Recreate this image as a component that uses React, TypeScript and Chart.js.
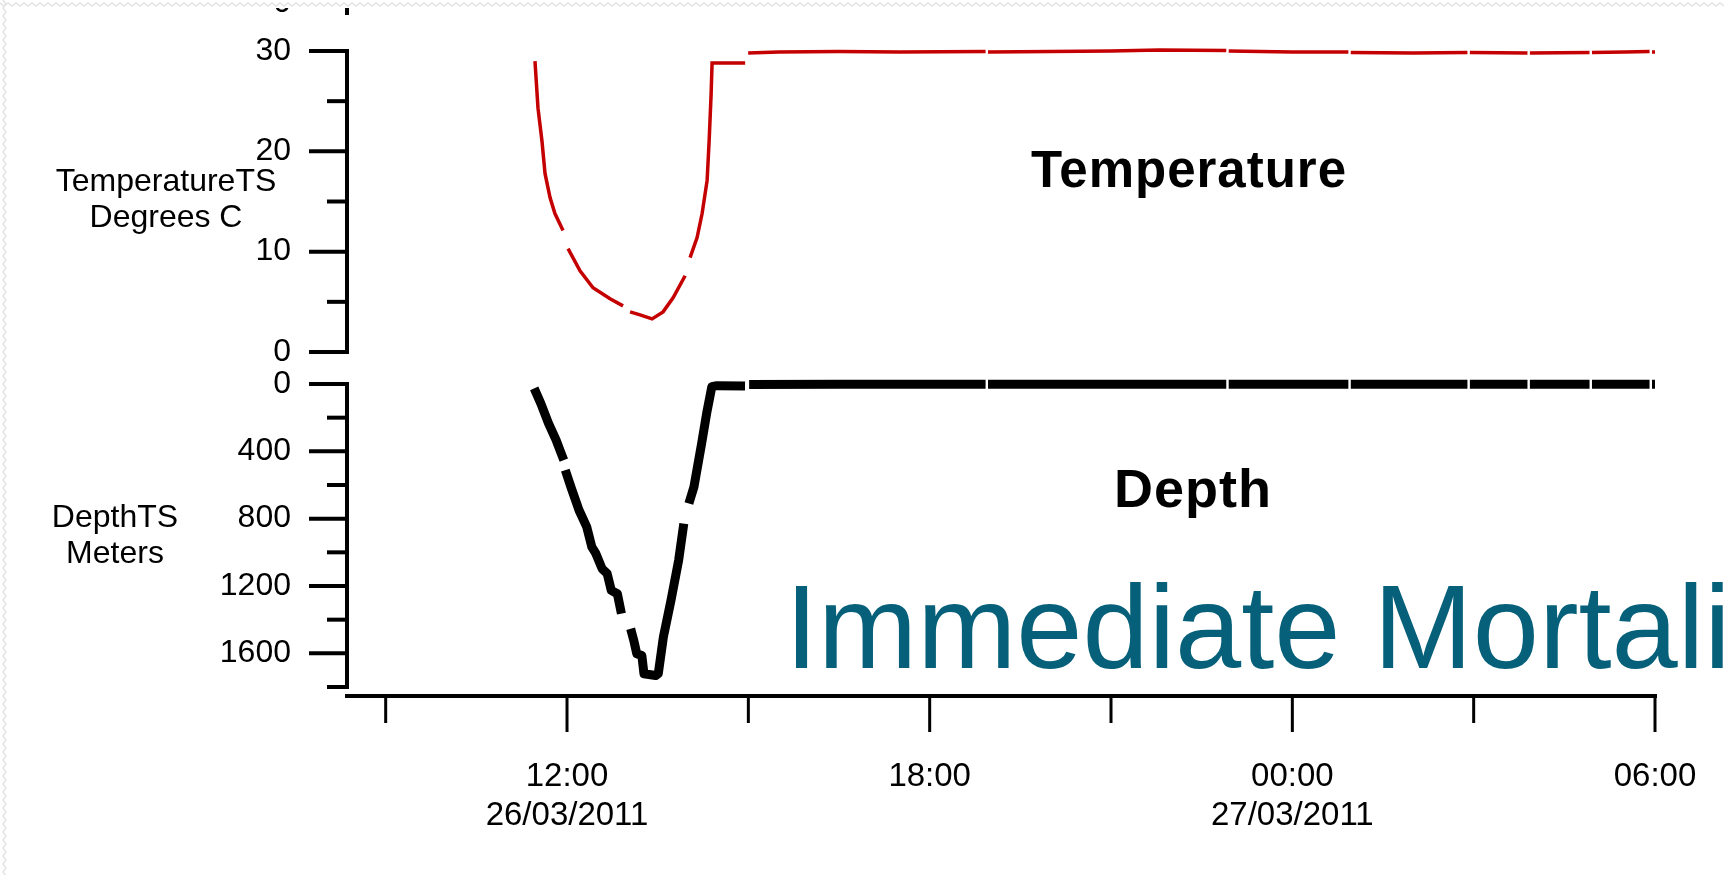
import React, { useEffect, useRef } from 'react';
import { Chart, registerables } from 'chart.js';

Chart.register(...registerables);

const W = 1724;
const H = 875;
const FONT = '"Liberation Sans", Arial, Helvetica, sans-serif';

// Time in hours since 26/03/2011 00:00 (null value = gap in record)
const TEMP_TIME = [
  11.47, 11.52, 11.586, 11.636, 11.719, 11.8, 11.934, 11.975, 12.017, 12.215, 12.43, 12.712, 12.927,
  12.985, 13.043, 13.209, 13.407, 13.589, 13.755, 13.954, 13.995, 14.036, 14.152, 14.235, 14.318,
  14.351, 14.384, 14.4, 14.947, 14.972, 14.997, 15.5, 16.5, 17.5, 18.925, 18.945, 18.965, 20.0, 21.0,
  21.8, 22.907, 22.927, 22.947, 24.0, 24.927, 24.947, 24.967, 26.0, 26.897, 26.917, 26.937, 27.89,
  27.91, 27.93, 28.917, 28.937, 28.957, 29.5, 29.91, 29.93, 29.95, 30.0,
];
const TEMP_VALUES = [
  29.0, 24.3, 21.0, 17.8, 15.4, 13.8, 12.1, null, 10.3, 8.1, 6.4, 5.3, 4.6,
  null, 4.0, 3.7, 3.3, 4.0, 5.4, 7.6, null, 9.4, 11.4, 13.8, 17.1,
  21.0, 25.7, 28.8, 28.8, null, 29.8, 29.9, 29.95, 29.9, 29.95, null, 29.9, 29.95, 30.0,
  30.1, 30.05, null, 30.0, 29.9, 29.9, null, 29.85, 29.8, 29.85, null, 29.85, 29.8,
  null, 29.8, 29.85, null, 29.85, 29.9, 29.95, null, 29.9, 29.9,
];

const DEPTH_TIME = [
  11.457, 11.566, 11.694, 11.82, 11.904, 11.947, 11.96, 11.972, 12.073, 12.199, 12.326, 12.41, 12.478,
  12.58, 12.664, 12.732, 12.833, 12.9, 12.98, 13.053, 13.104, 13.154, 13.238, 13.273, 13.467, 13.51,
  13.594, 13.72, 13.847, 13.932, 13.97, 14.016, 14.1, 14.227, 14.31, 14.396, 14.48, 14.945, 14.98,
  15.013, 16.5, 18.925, 18.945, 18.965, 20.5, 22.907, 22.927, 22.947, 24.927, 24.947, 24.967, 26.897,
  26.917, 26.937, 27.89, 27.91, 27.93, 28.917, 28.937, 28.957, 29.91, 29.93, 29.95, 30.0,
];
const DEPTH_VALUES = [
  26, 115, 234, 333, 413, 452, null, 512, 621, 750, 849, 968, 1008,
  1097, 1126, 1226, 1246, 1364, null, 1454, 1523, 1602, 1613, 1721, 1732, 1721,
  1504, 1285, 1047, 829, null, 710, 611, 353, 175, 16, 10, 12, null,
  3, 2, 2, null, 2, 1, 1, null, 1, 1, null, 1, 1,
  null, 1, 1, null, 1, 1, null, 1, 1, null, 1, 1,
];

const X_MIN = 8.36;
const X_MAX = 30;
const X_MAJOR = [12, 18, 24, 30];
const X_MINOR = [9, 15, 21, 27];
const X_TIME_LABELS = ['12:00', '18:00', '00:00', '06:00'];
const X_DATE_LABELS = ['26/03/2011', '', '27/03/2011', ''];

const TEMP_MIN = 0;
const TEMP_MAX = 30;
const TEMP_MAJOR = [0, 10, 20, 30];
const TEMP_MINOR = [5, 15, 25];
const TEMP_TITLE = ['TemperatureTS', 'Degrees C'];

const DEPTH_MIN = 0;
const DEPTH_MAX = 1800;
const DEPTH_MAJOR = [0, 400, 800, 1200, 1600];
const DEPTH_MINOR = [200, 600, 1000, 1400, 1800];
const DEPTH_TITLE = ['DepthTS', 'Meters'];

const toPoints = (t: number[], v: (number | null)[]) => t.map((x, i) => ({ x, y: v[i] }));

type AxisOpts = {
  yMin: number;
  yMax: number;
  yMajor: number[];
  yMinor: number[];
  title: string[];
  titleX: number;
  titleY: number;
  drawX: boolean;
  extra?: (ctx: CanvasRenderingContext2D, chart: any) => void;
};

const zeroPad = (s: any) => {
  s.paddingTop = 0;
  s.paddingBottom = 0;
  s.paddingLeft = 0;
  s.paddingRight = 0;
};

const makeAxisPlugin = (o: AxisOpts) => ({
  id: 'customAxes',
  afterDraw(chart: any) {
    const ctx: CanvasRenderingContext2D = chart.ctx;
    const ys = chart.scales.y;
    const xs = chart.scales.x;
    const area = chart.chartArea;
    ctx.save();
    ctx.strokeStyle = '#000';
    ctx.lineCap = 'butt';
    const left = area.left;
    const yTop = ys.getPixelForValue(o.yMax);
    const yBot = ys.getPixelForValue(o.yMin);
    const y1 = Math.min(yTop, yBot);
    const y2 = Math.max(yTop, yBot);
    ctx.lineWidth = 4;
    ctx.beginPath();
    ctx.moveTo(left, y1 - 2);
    ctx.lineTo(left, y2 + 2);
    ctx.stroke();
    o.yMajor.forEach((v) => {
      const p = ys.getPixelForValue(v);
      ctx.beginPath();
      ctx.moveTo(left - 38, p);
      ctx.lineTo(left + 2, p);
      ctx.stroke();
    });
    o.yMinor.forEach((v) => {
      const p = ys.getPixelForValue(v);
      ctx.beginPath();
      ctx.moveTo(left - 20, p);
      ctx.lineTo(left + 2, p);
      ctx.stroke();
    });
    if (o.drawX) {
      const ax = area.bottom + 9;
      ctx.lineWidth = 4;
      ctx.beginPath();
      ctx.moveTo(left - 2, ax);
      ctx.lineTo(area.right + 2, ax);
      ctx.stroke();
      ctx.lineWidth = 3;
      X_MAJOR.forEach((v) => {
        const p = xs.getPixelForValue(v);
        ctx.beginPath();
        ctx.moveTo(p, ax);
        ctx.lineTo(p, ax + 36);
        ctx.stroke();
      });
      X_MINOR.forEach((v) => {
        const p = xs.getPixelForValue(v);
        ctx.beginPath();
        ctx.moveTo(p, ax);
        ctx.lineTo(p, ax + 27);
        ctx.stroke();
      });
    }
    ctx.fillStyle = '#000';
    ctx.font = `32px ${FONT}`;
    ctx.textAlign = 'center';
    ctx.textBaseline = 'middle';
    o.title.forEach((t, i) => ctx.fillText(t, o.titleX, o.titleY + i * 36.5));
    if (o.extra) o.extra(ctx, chart);
    ctx.restore();
  },
});

// faint wavy slide border on the top and left edges
const drawSlideEdge = (ctx: CanvasRenderingContext2D) => {
  ctx.save();
  ctx.strokeStyle = '#e4e4e4';
  ctx.lineWidth = 1.5;
  ctx.beginPath();
  for (let x = 0; x <= W; x += 8) {
    ctx.lineTo(x, 3);
    ctx.lineTo(x + 4, 6);
  }
  ctx.stroke();
  ctx.beginPath();
  for (let y = 0; y <= H; y += 8) {
    ctx.lineTo(3, y);
    ctx.lineTo(6, y + 4);
  }
  ctx.stroke();
  ctx.restore();
};

export default function App() {
  const topRef = useRef<HTMLCanvasElement>(null);
  const botRef = useRef<HTMLCanvasElement>(null);

  useEffect(() => {
    Chart.defaults.font.family = FONT;
    Chart.defaults.color = '#000';

    const commonX = (display: boolean) => ({
      type: 'linear' as const,
      min: X_MIN,
      max: X_MAX,
      display,
      grid: { display: false, drawTicks: false },
      border: { display: false },
      afterBuildTicks: (s: any) => {
        s.ticks = X_MAJOR.map((v) => ({ value: v }));
      },
      afterFit: (s: any) => {
        zeroPad(s);
        if (display) s.height = 188;
      },
      ticks: {
        padding: 70,
        maxRotation: 0,
        autoSkip: false,
        font: { size: 33 },
        color: '#000',
        callback: (_v: any, i: number) =>
          X_DATE_LABELS[i] ? [X_TIME_LABELS[i], X_DATE_LABELS[i]] : X_TIME_LABELS[i],
      },
    });

    const yScale = (min: number, max: number, major: number[], reverse: boolean) => ({
      type: 'linear' as const,
      min,
      max,
      reverse,
      grid: { display: false, drawTicks: false },
      border: { display: false },
      afterBuildTicks: (s: any) => {
        s.ticks = major.map((v) => ({ value: v }));
      },
      afterFit: (s: any) => {
        zeroPad(s);
        s.width = 347;
      },
      ticks: {
        padding: 56,
        font: { size: 32 },
        color: '#000',
        callback: (v: any) => String(v),
      },
    });

    const topChart = new Chart(topRef.current!, {
      type: 'line',
      data: {
        datasets: [
          {
            label: 'TemperatureTS',
            data: toPoints(TEMP_TIME, TEMP_VALUES),
            borderColor: '#C40000',
            borderWidth: 3.5,
            pointRadius: 0,
            tension: 0,
            spanGaps: false,
            clip: false as any,
          },
        ],
      },
      options: {
        responsive: false,
        animation: false,
        devicePixelRatio: 1,
        layout: { padding: { left: 0, right: 69, top: 51, bottom: H - 352 } },
        plugins: { legend: { display: false }, tooltip: { enabled: false }, title: { display: false } },
        scales: {
          x: commonX(false) as any,
          y: yScale(TEMP_MIN, TEMP_MAX, TEMP_MAJOR, false) as any,
        },
      },
      plugins: [
        makeAxisPlugin({
          yMin: TEMP_MIN,
          yMax: TEMP_MAX,
          yMajor: TEMP_MAJOR,
          yMinor: TEMP_MINOR,
          title: TEMP_TITLE,
          titleX: 166,
          titleY: 182,
          drawX: false,
          extra: (ctx, chart) => {
            // remnant of the panel above, cut by the slide edge
            ctx.save();
            ctx.beginPath();
            ctx.rect(0, 8, W, 40);
            ctx.clip();
            ctx.font = `32px ${FONT}`;
            ctx.textAlign = 'right';
            ctx.textBaseline = 'alphabetic';
            ctx.fillText('0', 291, 12);
            ctx.lineWidth = 4;
            ctx.beginPath();
            ctx.moveTo(chart.chartArea.left, 0);
            ctx.lineTo(chart.chartArea.left, 15);
            ctx.stroke();
            ctx.restore();
            drawSlideEdge(ctx);
            ctx.font = `bold 51px ${FONT}`;
            ctx.textAlign = 'center';
            ctx.textBaseline = 'alphabetic';
            (ctx as any).letterSpacing = '1px';
            ctx.fillText('Temperature', 1189, 187);
            (ctx as any).letterSpacing = '0px';
          },
        }),
      ],
    });

    const botChart = new Chart(botRef.current!, {
      type: 'line',
      data: {
        datasets: [
          {
            label: 'DepthTS',
            data: toPoints(DEPTH_TIME, DEPTH_VALUES),
            borderColor: '#000',
            borderWidth: 9,
            borderJoinStyle: 'round',
            pointRadius: 0,
            tension: 0,
            spanGaps: false,
            clip: false as any,
          },
        ],
      },
      options: {
        responsive: false,
        animation: false,
        devicePixelRatio: 1,
        layout: { padding: { left: 0, right: 69, top: 384, bottom: 0 } },
        plugins: { legend: { display: false }, tooltip: { enabled: false }, title: { display: false } },
        scales: {
          x: commonX(true) as any,
          y: yScale(DEPTH_MIN, DEPTH_MAX, DEPTH_MAJOR, true) as any,
        },
      },
      plugins: [
        makeAxisPlugin({
          yMin: DEPTH_MIN,
          yMax: DEPTH_MAX,
          yMajor: DEPTH_MAJOR,
          yMinor: DEPTH_MINOR,
          title: DEPTH_TITLE,
          titleX: 115,
          titleY: 518,
          drawX: true,
          extra: (ctx) => {
            ctx.textBaseline = 'alphabetic';
            ctx.font = `bold 54px ${FONT}`;
            ctx.textAlign = 'center';
            ctx.fillStyle = '#000';
            (ctx as any).letterSpacing = '1px';
            ctx.fillText('Depth', 1193, 507);
            (ctx as any).letterSpacing = '0px';
            ctx.font = `119px ${FONT}`;
            ctx.textAlign = 'left';
            ctx.fillStyle = '#066079';
            ctx.fillText('Immediate Mortality', 785, 668);
          },
        }),
      ],
    });

    return () => {
      topChart.destroy();
      botChart.destroy();
    };
  }, []);

  return (
    <div style={{ position: 'absolute', left: 0, top: 0, width: W, height: H, background: '#fff', overflow: 'hidden' }}>
      <canvas ref={topRef} width={W} height={H} style={{ position: 'absolute', left: 0, top: 0, width: W, height: H }} />
      <canvas ref={botRef} width={W} height={H} style={{ position: 'absolute', left: 0, top: 0, width: W, height: H }} />
    </div>
  );
}
